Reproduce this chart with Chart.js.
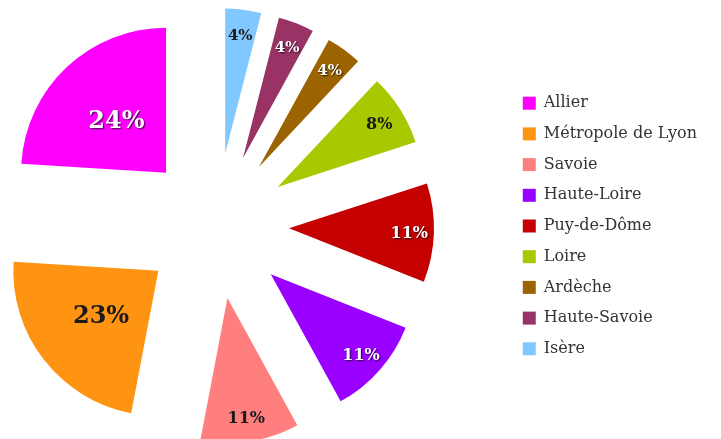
<!DOCTYPE html>
<html>
<head>
<meta charset="utf-8">
<script src="https://cdn.jsdelivr.net/npm/chart.js@4.4.1/dist/chart.umd.min.js"></script>
<style>
  html, body { margin: 0; padding: 0; background: #fff; overflow: hidden; }
  body { width: 721px; height: 439px; }
  /* wider canvas pulled left so the pie sits left of the legend like the original */
  #wrap { width: 797px; height: 439px; margin-left: -76px; }
</style>
</head>
<body>
<div id="wrap"><canvas id="pieCanvas"></canvas></div>
<script>
// slices listed clockwise from 12 o'clock (legend is shown reversed)
const departements = ["Isère", "Haute-Savoie", "Ardèche", "Loire", "Puy-de-Dôme", "Haute-Loire", "Savoie", "Métropole de Lyon", "Allier"];
const parts = [4, 4, 4, 8, 11, 11, 11, 23, 24];
const couleurs = ["#80c8ff", "#993366", "#9c6400", "#a8c800", "#c40000", "#9900ff", "#ff7f7f", "#ff9412", "#ff00ff"];
const labelBlanc = [false, true, true, false, true, true, false, false, true];

const ECART = 73;   // how far each slice is pulled out
const RAYON = 145;

const explode = {
    id: "explode",
    beforeDatasetsDraw(chart) {
        const ctx = chart.ctx;
        const arcs = chart.getDatasetMeta(0).data;
        arcs.forEach(arc => {
            const mid = (arc.startAngle + arc.endAngle) / 2;
            ctx.save();
            ctx.translate(Math.cos(mid) * ECART, Math.sin(mid) * ECART);
            arc.draw(ctx);
            ctx.restore();
        });
        // percentages
        ctx.save();
        ctx.textAlign = "center";
        ctx.textBaseline = "middle";
        arcs.forEach((arc, i) => {
            const v = parts[i];
            const mid = (arc.startAngle + arc.endAngle) / 2;
            const d = ECART + arc.outerRadius * (v >= 20 ? 0.5 : 0.83);
            const x = arc.x + Math.cos(mid) * d;
            const y = arc.y + Math.sin(mid) * d + 2;
            const size = v >= 20 ? 24 : (v >= 8 ? 16 : 15);
            ctx.font = "bold " + size + "px 'DejaVu Serif'";
            if (labelBlanc[i]) {
                ctx.shadowColor = "rgba(0,0,0,0.75)";
                ctx.shadowOffsetX = 1;
                ctx.shadowOffsetY = 1;
                ctx.shadowBlur = 1.5;
                ctx.fillStyle = "#ffffff";
            } else {
                ctx.shadowColor = "transparent";
                ctx.fillStyle = "#1a1a1a";
            }
            ctx.fillText(v + "%", x, y);
        });
        ctx.restore();
        return false;
    }
};

const pieCanvas = document.getElementById("pieCanvas");
const pieChart = new Chart(pieCanvas, {
    type: "pie",
    data: {
        labels: departements,
        datasets: [{
            data: parts,
            backgroundColor: couleurs,
            borderWidth: 0,
            radius: RAYON
        }]
    },
    options: {
        responsive: true,
        maintainAspectRatio: false,
        animation: false,
        events: [],
        layout: {
            padding: { left: 0, right: 14, top: 13, bottom: 0 }
        },
        plugins: {
            legend: {
                position: "right",
                reverse: true,
                labels: {
                    boxWidth: 13,
                    boxHeight: 13,
                    padding: 14.7,
                    color: "#333",
                    font: { family: "'DejaVu Serif'", size: 16 }
                }
            },
            tooltip: { enabled: false }
        }
    },
    plugins: [explode]
});
</script>
</body>
</html>
